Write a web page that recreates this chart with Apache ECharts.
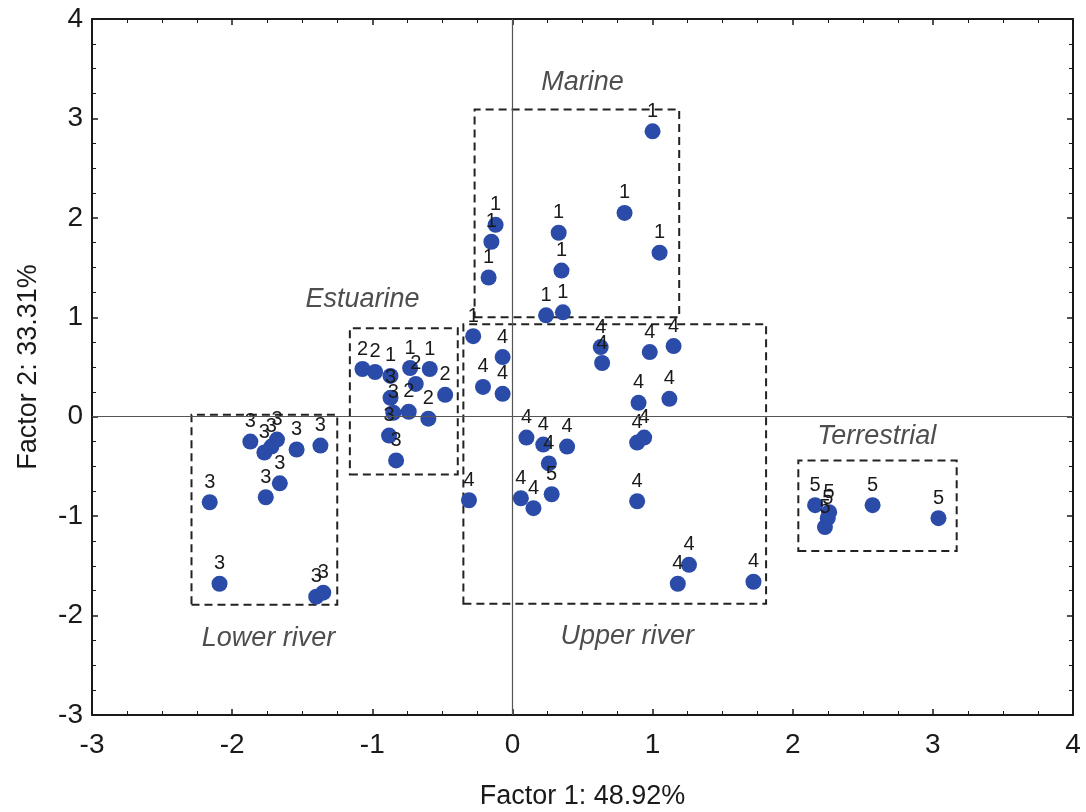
<!DOCTYPE html>
<html>
<head>
<meta charset="utf-8">
<style>
  html, body { margin: 0; padding: 0; background: #fff; }
  #chart { width: 1086px; height: 812px; }
</style>
<script src="https://cdn.jsdelivr.net/npm/echarts@6/dist/echarts.min.js"></script>
</head>
<body>
<div id="chart"></div>
<script>
// Factor scores of each sample on the first two factors, with its group code
const factor1 = [
  // group 1
  1.00, 0.80, 1.05, 0.33, 0.35, -0.12, -0.15, -0.17, 0.24, 0.36, -0.28,
  // estuarine cluster
  -1.07, -0.98, -0.87, -0.73, -0.69, -0.59, -0.48, -0.87, -0.85, -0.74, -0.60, -0.88, -0.83,
  // group 3
  -1.87, -1.77, -1.72, -1.68, -1.54, -1.37, -1.66, -1.76, -2.16, -2.09, -1.40, -1.35,
  // group 4 (and one 5)
  -0.07, -0.21, -0.07, 0.63, 0.64, 0.98, 1.15, 0.90, 1.12, 0.10, 0.22, 0.39, 0.26, 0.89, 0.94,
  -0.31, 0.06, 0.15, 0.28, 0.89, 1.26, 1.18, 1.72,
  // group 5
  2.16, 2.26, 2.23, 2.25, 2.57, 3.04
];
const factor2 = [
  2.87, 2.05, 1.65, 1.85, 1.47, 1.93, 1.76, 1.40, 1.02, 1.05, 0.81,
  0.48, 0.45, 0.41, 0.49, 0.33, 0.48, 0.22, 0.19, 0.04, 0.05, -0.02, -0.19, -0.44,
  -0.25, -0.36, -0.30, -0.23, -0.33, -0.29, -0.67, -0.81, -0.86, -1.68, -1.81, -1.77,
  0.60, 0.30, 0.23, 0.70, 0.54, 0.65, 0.71, 0.14, 0.18, -0.21, -0.28, -0.30, -0.47, -0.26, -0.21,
  -0.84, -0.82, -0.92, -0.78, -0.85, -1.49, -1.68, -1.66,
  -0.89, -0.96, -1.11, -1.02, -0.89, -1.02
];
const groupCode = [
  '1', '1', '1', '1', '1', '1', '1', '1', '1', '1', '1',
  '2', '2', '1', '1', '2', '1', '2', '3', '3', '2', '2', '3', '3',
  '3', '3', '3', '3', '3', '3', '3', '3', '3', '3', '3', '3',
  '4', '4', '4', '4', '4', '4', '4', '4', '4', '4', '4', '4', '4', '4', '4',
  '4', '4', '4', '5', '4', '4', '4', '4',
  '5', '5', '5', '5', '5', '5'
];

// Group outlines: [factor1 min, factor2 min, factor1 max, factor2 max]
const groupBoxes = [
  [-0.27, 1.00, 1.19, 3.09],
  [-1.16, -0.58, -0.39, 0.89],
  [-2.29, -1.89, -1.25, 0.02],
  [-0.35, -1.88, 1.81, 0.93],
  [2.04, -1.35, 3.17, -0.44]
];
const groupNames = ['Marine', 'Estuarine', 'Lower river', 'Upper river', 'Terrestrial'];
const groupNamePos = [[0.50, 3.36], [-1.07, 1.18], [-1.74, -2.23], [0.82, -2.21], [2.60, -0.20]];

const axisMin = -3, axisMax = 4, axisStep = 1;
const xTitle = 'Factor 1: 48.92%';
const yTitle = 'Factor 2: 33.31%';

const FONT = '"Liberation Sans", Arial, sans-serif';
const INK = '#1a1a1a';

const points = factor1.map((x, i) => [x, factor2[i], groupCode[i]]);

function frameAxis(pos, withLabels) {
  return {
    type: 'value', position: pos,
    min: axisMin, max: axisMax, interval: axisStep,
    axisLine: { show: true, onZero: false, lineStyle: { color: INK, width: 2 } },
    axisTick: { show: true, inside: true, length: 6, lineStyle: { color: INK, width: 1.5 } },
    minorTick: { show: true, splitNumber: 4, length: 4, lineStyle: { color: INK, width: 1 } },
    splitLine: { show: false },
    axisLabel: withLabels
      ? { show: true, fontFamily: FONT, fontSize: 28, color: INK, margin: pos === 'bottom' ? 16 : 9 }
      : { show: false }
  };
}

const xMain = Object.assign(frameAxis('bottom', true), {
  name: xTitle, nameLocation: 'middle', nameGap: 68,
  nameTextStyle: { fontFamily: FONT, fontSize: 27, color: INK }
});
const yMain = Object.assign(frameAxis('left', true), {
  name: yTitle, nameLocation: 'middle', nameGap: 50,
  nameTextStyle: { fontFamily: FONT, fontSize: 27, color: INK }
});

const option = {
  backgroundColor: '#ffffff',
  animation: false,
  grid: { left: 92, right: 13, top: 19, bottom: 97, containLabel: false, outerBoundsMode: 'none' },
  xAxis: [xMain, frameAxis('top', false)],
  yAxis: [yMain, frameAxis('right', false)],
  series: [
    {
      // group outlines and the two zero lines
      type: 'scatter',
      data: [],
      silent: true,
      markArea: {
        silent: true,
        itemStyle: {
          color: 'rgba(0,0,0,0)',
          borderColor: '#222',
          borderWidth: 2,
          borderType: [8, 5]
        },
        label: { show: false },
        data: groupBoxes.map(b => [{ coord: [b[0], b[1]] }, { coord: [b[2], b[3]] }])
      },
      markLine: {
        silent: true,
        symbol: ['none', 'none'],
        label: { show: false },
        lineStyle: { color: '#555', width: 1.2, type: 'solid' },
        data: [{ xAxis: 0 }, { yAxis: 0 }]
      }
    },
    {
      // samples
      type: 'scatter',
      data: points,
      symbol: 'circle',
      symbolSize: 16,
      itemStyle: { color: '#2A4BA8', opacity: 1 },
      label: {
        show: true,
        position: 'top',
        distance: 2,
        formatter: p => p.value[2],
        fontFamily: FONT,
        fontSize: 20,
        color: INK
      },
      labelLayout: { hideOverlap: false },
      z: 3
    },
    {
      // group names
      type: 'scatter',
      data: groupNamePos.map((p, i) => [p[0], p[1], groupNames[i]]),
      symbolSize: 0,
      silent: true,
      label: {
        show: true,
        position: 'inside',
        formatter: p => p.value[2],
        fontFamily: FONT,
        fontStyle: 'italic',
        fontSize: 27,
        color: '#222'
      },
      z: 4
    }
  ]
};

const chart = echarts.init(document.getElementById('chart'), null, { renderer: 'canvas' });
chart.setOption(option);
</script>
</body>
</html>
